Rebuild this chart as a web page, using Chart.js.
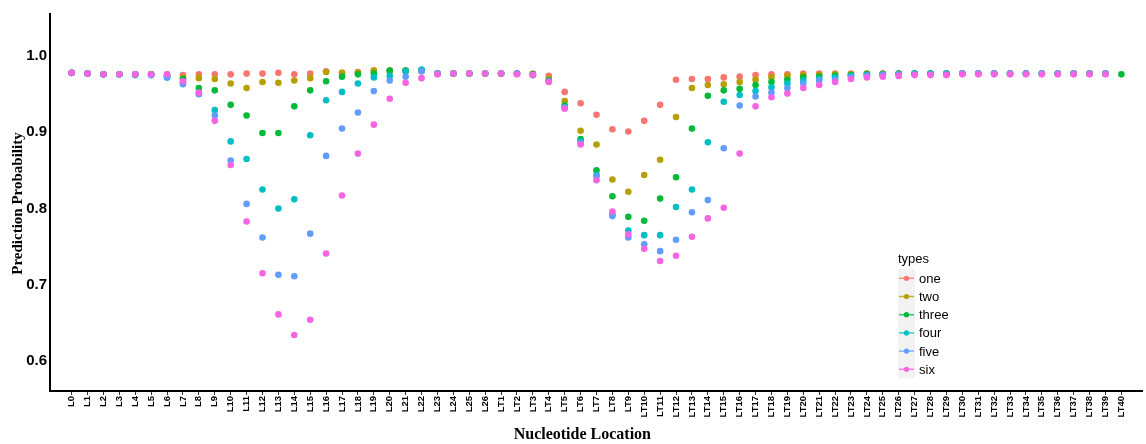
<!DOCTYPE html>
<html>
<head>
<meta charset="utf-8">
<script src="https://cdn.jsdelivr.net/npm/chart.js@4.4.0/dist/chart.umd.min.js"></script>
<style>
  body { margin: 0; background: #fff; }
</style>
</head>
<body>
<canvas id="myChart" width="1146" height="444"></canvas>
<script>
// categories (x axis)
const locations = [
  "L0", "L1", "L2", "L3", "L4", "L5", "L6", "L7", "L8", "L9",
  "L10", "L11", "L12", "L13", "L14", "L15", "L16", "L17", "L18", "L19",
  "L20", "L21", "L22", "L23", "L24", "L25", "L26",
  "LT1", "LT2", "LT3", "LT4", "LT5", "LT6", "LT7", "LT8", "LT9", "LT10",
  "LT11", "LT12", "LT13", "LT14", "LT15", "LT16", "LT17", "LT18", "LT19", "LT20",
  "LT21", "LT22", "LT23", "LT24", "LT25", "LT26", "LT27", "LT28", "LT29", "LT30",
  "LT31", "LT32", "LT33", "LT34", "LT35", "LT36", "LT37", "LT38", "LT39", "LT40"
];
const yTicks = [0.6, 0.7, 0.8, 0.9, 1.0];
const typeNames = ["one", "two", "three", "four", "five", "six"];
const typeColors = ["#F8766D", "#B79F00", "#00BA38", "#00BFC4", "#619CFF", "#F564E3"];

// values
const one = [
  0.978, 0.977, 0.976, 0.976, 0.976, 0.976, 0.976, 0.975, 0.976, 0.976,
  0.976, 0.977, 0.977, 0.978, 0.976, 0.977, 0.980, 0.978, 0.979, 0.981,
  0.980, 0.980, 0.980, 0.977, 0.977, 0.977, 0.977,
  0.977, 0.977, 0.977, 0.974, 0.953, 0.938, 0.923, 0.904, 0.901, 0.915,
  0.936, 0.969, 0.970, 0.970, 0.972, 0.973, 0.975, 0.976, 0.976, 0.977,
  0.977, 0.977, 0.977, 0.977, 0.977, 0.977, 0.977, 0.977, 0.977, 0.977,
  0.977, 0.977, 0.977, 0.977, 0.977, 0.977, 0.977, 0.977, 0.977, null
];
const two = [
  0.978, 0.977, 0.976, 0.976, 0.976, 0.976, 0.975, 0.971, 0.971, 0.970,
  0.964, 0.958, 0.966, 0.965, 0.968, 0.971, 0.979, 0.978, 0.978, 0.981,
  0.981, 0.981, 0.981, 0.977, 0.977, 0.977, 0.977,
  0.977, 0.977, 0.976, 0.970, 0.941, 0.902, 0.884, 0.838, 0.822, 0.844,
  0.864, 0.920, 0.958, 0.962, 0.963, 0.966, 0.969, 0.972, 0.974, 0.975,
  0.975, 0.976, 0.976, 0.977, 0.977, 0.977, 0.977, 0.977, 0.977, 0.977,
  0.977, 0.977, 0.977, 0.977, 0.977, 0.977, 0.977, 0.977, 0.977, null
];
const three = [
  0.978, 0.977, 0.976, 0.976, 0.975, 0.976, 0.974, 0.970, 0.958, 0.955,
  0.936, 0.922, 0.899, 0.899, 0.934, 0.955, 0.967, 0.973, 0.976, 0.977,
  0.981, 0.981, 0.982, 0.977, 0.977, 0.977, 0.977,
  0.977, 0.977, 0.976, 0.968, 0.935, 0.891, 0.850, 0.816, 0.789, 0.784,
  0.813, 0.841, 0.905, 0.948, 0.955, 0.957, 0.962, 0.966, 0.969, 0.972,
  0.973, 0.974, 0.975, 0.976, 0.976, 0.977, 0.977, 0.977, 0.977, 0.977,
  0.977, 0.977, 0.977, 0.977, 0.977, 0.977, 0.977, 0.977, 0.977, 0.976
];
const four = [
  0.978, 0.977, 0.976, 0.976, 0.976, 0.975, 0.972, 0.965, 0.951, 0.929,
  0.888, 0.865, 0.825, 0.800, 0.812, 0.896, 0.942, 0.953, 0.964, 0.972,
  0.974, 0.980, 0.982, 0.977, 0.977, 0.977, 0.977,
  0.977, 0.977, 0.975, 0.967, 0.933, 0.888, 0.844, 0.792, 0.771, 0.765,
  0.765, 0.802, 0.825, 0.887, 0.940, 0.949, 0.954, 0.959, 0.964, 0.968,
  0.970, 0.972, 0.974, 0.975, 0.976, 0.976, 0.977, 0.977, 0.977, 0.977,
  0.977, 0.977, 0.977, 0.977, 0.977, 0.977, 0.977, 0.977, 0.977, null
];
const five = [
  0.978, 0.977, 0.976, 0.976, 0.976, 0.975, 0.972, 0.963, 0.950, 0.922,
  0.863, 0.806, 0.762, 0.713, 0.711, 0.767, 0.869, 0.905, 0.926, 0.954,
  0.968, 0.973, 0.980, 0.977, 0.977, 0.977, 0.977,
  0.977, 0.977, 0.975, 0.967, 0.932, 0.886, 0.842, 0.790, 0.762, 0.753,
  0.744, 0.759, 0.795, 0.811, 0.879, 0.935, 0.947, 0.952, 0.958, 0.964,
  0.968, 0.969, 0.972, 0.974, 0.975, 0.976, 0.976, 0.976, 0.976, 0.977,
  0.977, 0.977, 0.977, 0.977, 0.977, 0.977, 0.977, 0.977, 0.977, null
];
const six = [
  0.978, 0.977, 0.976, 0.976, 0.976, 0.976, 0.976, 0.967, 0.952, 0.915,
  0.857, 0.783, 0.715, 0.661, 0.634, 0.654, 0.741, 0.817, 0.872, 0.910,
  0.944, 0.965, 0.971, 0.976, 0.977, 0.977, 0.977,
  0.977, 0.976, 0.975, 0.966, 0.931, 0.884, 0.837, 0.796, 0.766, 0.747,
  0.731, 0.738, 0.763, 0.787, 0.801, 0.872, 0.934, 0.946, 0.951, 0.958,
  0.962, 0.966, 0.970, 0.972, 0.973, 0.974, 0.975, 0.975, 0.975, 0.976,
  0.976, 0.976, 0.976, 0.976, 0.976, 0.976, 0.976, 0.976, 0.976, null
];
const series = [one, two, three, four, five, six];

const SANS = '"Liberation Sans", Arial, Helvetica, sans-serif';
const SERIF = '"Liberation Serif", "Times New Roman", serif';

// axis titles + ggplot style legend
const extras = {
  id: "extras",
  afterDraw(chart) {
    const ctx = chart.ctx;
    const area = chart.chartArea;
    ctx.save();
    ctx.fillStyle = "#000";
    ctx.textAlign = "center";
    ctx.textBaseline = "middle";
    ctx.font = "bold 16px " + SERIF;
    ctx.fillText("Nucleotide Location", (area.left + area.right) / 2 - 14, 435);
    ctx.save();
    ctx.translate(18, (area.top + area.bottom) / 2 + 1);
    ctx.rotate(-Math.PI / 2);
    ctx.font = "bold 15px " + SERIF;
    ctx.fillText("Prediction Probability", 0, 0);
    ctx.restore();

    // legend
    const lx = 898, ly = 278.3, step = 18.2;
    ctx.textAlign = "left";
    ctx.font = "13px " + SANS;
    ctx.fillStyle = "#000";
    ctx.fillText("types", lx, 259);
    chart.data.datasets.forEach(function (ds, i) {
      const cy = ly + i * step;
      ctx.fillStyle = "#F2F2F2";
      ctx.fillRect(lx, cy - step / 2, 17, step);
      ctx.strokeStyle = ds.backgroundColor;
      ctx.globalAlpha = 0.8;
      ctx.lineWidth = 1.5;
      ctx.beginPath();
      ctx.moveTo(lx + 1, cy);
      ctx.lineTo(lx + 16, cy);
      ctx.stroke();
      ctx.globalAlpha = 1;
      ctx.fillStyle = ds.backgroundColor;
      ctx.beginPath();
      ctx.arc(lx + 8.5, cy, 2.6, 0, Math.PI * 2);
      ctx.fill();
      ctx.fillStyle = "#000";
      ctx.fillText(ds.label, lx + 21, cy + 1);
    });
    ctx.restore();
  }
};

const datasets = series.map(function (vals, i) {
  return {
    label: typeNames[i],
    data: vals.map(function (v, j) { return { x: j, y: v }; }),
    backgroundColor: typeColors[i],
    borderColor: typeColors[i],
    borderWidth: 0,
    pointRadius: 3.3,
    pointHoverRadius: 3.3,
    order: series.length - i // last type drawn on top
  };
});

let ctx = document.getElementById("myChart").getContext("2d");
let myChart = new Chart(ctx, {
  type: "scatter",
  data: { datasets: datasets },
  plugins: [extras],
  options: {
    responsive: false,
    animation: false,
    devicePixelRatio: 1,
    layout: { padding: { top: 14, right: 3, left: 0, bottom: 0 } },
    plugins: {
      legend: { display: false },
      tooltip: { enabled: false }
    },
    scales: {
      x: {
        type: "linear",
        min: -1.36,
        max: 67.34,
        afterBuildTicks: function (scale) {
          scale.ticks = locations.map(function (c, i) { return { value: i }; });
        },
        afterFit: function (scale) { scale.height = 53; },
        border: { display: true, color: "#000", width: 2 },
        grid: { drawOnChartArea: false, drawTicks: true, tickLength: 4, color: "#333" },
        ticks: {
          autoSkip: false,
          minRotation: 90,
          maxRotation: 90,
          padding: 1,
          color: "#000",
          font: { family: SANS, size: 9.5, weight: 700 },
          callback: function (v) { return locations[v]; }
        }
      },
      y: {
        min: 0.5605,
        max: 1.0552,
        afterBuildTicks: function (scale) {
          scale.ticks = yTicks.map(function (v) { return { value: v }; });
        },
        afterFit: function (scale) { scale.width = 50; },
        border: { display: true, color: "#000", width: 2 },
        grid: { drawOnChartArea: false, drawTicks: false },
        ticks: {
          padding: 3,
          color: "#000",
          font: { family: SANS, size: 15, weight: 700 },
          callback: function (v) { return v.toFixed(1); }
        }
      }
    }
  }
});
</script>
</body>
</html>
